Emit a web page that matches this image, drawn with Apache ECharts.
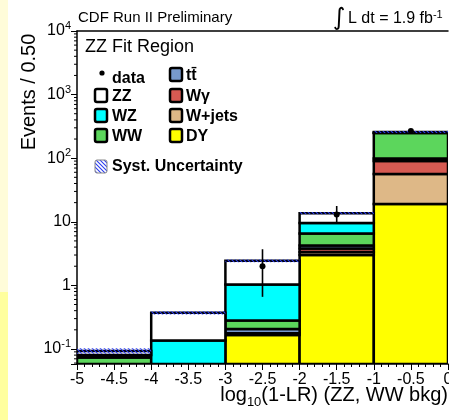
<!DOCTYPE html>
<html>
<head>
<meta charset="utf-8">
<script src="https://cdn.jsdelivr.net/npm/echarts@6/dist/echarts.min.js"></script>
<style>
html, body { margin: 0; padding: 0; background: #fff; }
#chart { width: 449px; height: 420px; }
</style>
</head>
<body>
<div id="chart"></div>
<script>
// Bin edges of log10(1-LR)
const binLow  = [-5, -4, -3, -2, -1];
const binHigh = [-4, -3, -2, -1,  0];

// Expected events per bin for each background, bottom of the stack first
const dy     = [0.030, 0.010, 0.166, 3.00, 19.0];
const wjets  = [0.010, 0.004, 0.005, 0.35, 37.5];
const wgamma = [0.005, 0.003, 0.005, 0.45, 34.0];
const ttbar  = [0.005, 0.003, 0.030, 0.45, 8.0];
const ww     = [0.023, 0.010, 0.075, 2.30, 150];
const wz     = [0.007, 0.106, 0.750, 3.00, 3.5];
const zz     = [0.013, 0.234, 1.400, 4.10, 6.0];

// Relative systematic uncertainty on the total prediction
const systFrac = [0.10, 0.06, 0.05, 0.04, 0.035];

// Observed data with error bar ends
const dataX    = [-2.5, -1.5, -0.5];
const dataY    = [2, 13, 268];
const dataLow  = [0.66, 9.9, 252];
const dataHigh = [3.7, 17.7, 284];

// Axis tick labels
const xTicks = ['-5', '-4.5', '-4', '-3.5', '-3', '-2.5', '-2', '-1.5', '-1', '-0.5', '0'];
const yTickExp = [-1, 0, 1, 2, 3, 4];

const Y_MIN = 0.058, Y_MAX = 1e4;
const FONT = '"Liberation Sans", Arial, Helvetica, sans-serif';

const components = [
  { name: 'DY',     values: dy,     color: '#ffff00' },
  { name: 'W+jets', values: wjets,  color: '#deb887' },
  { name: 'Wγ',     values: wgamma, color: '#d65a52' },
  { name: 'tt̄',     values: ttbar,  color: '#7799cc' },
  { name: 'WW',     values: ww,     color: '#5cd65c' },
  { name: 'WZ',     values: wz,     color: '#00ffff' },
  { name: 'ZZ',     values: zz,     color: '#ffffff' }
];

function hatchPattern() {
  const c = document.createElement('canvas');
  c.width = 4; c.height = 4;
  const g = c.getContext('2d');
  g.strokeStyle = '#2a3cf0';
  g.lineWidth = 1.1;
  g.beginPath();
  g.moveTo(-1, -1); g.lineTo(5, 5);
  g.moveTo(-1, 3); g.lineTo(1, 5);
  g.moveTo(3, -1); g.lineTo(5, 1);
  g.stroke();
  return { image: c, repeat: 'repeat' };
}
const HATCH = hatchPattern();

function clampRect(params, p0, p1) {
  const cs = params.coordSys;
  let top = Math.max(p1[1], cs.y);
  let bottom = Math.min(p0[1], cs.y + cs.height);
  if (bottom - top <= 0) return null;
  return { x: p0[0], y: top, width: p1[0] - p0[0], height: bottom - top };
}

// Stacked histogram series
const cumulative = binLow.map(() => 1e-4);
const stackSeries = components.map((comp, ci) => {
  const data = binLow.map((lo, i) => {
    const base = cumulative[i];
    const top = base + comp.values[i];
    cumulative[i] = top;
    return [lo, binHigh[i], base, top];
  });
  return {
    type: 'custom',
    name: comp.name,
    z: 2 + ci * 0.01,
    clip: true,
    encode: { x: [0, 1], y: [2, 3] },
    data: data,
    renderItem: function (params, api) {
      const p0 = api.coord([api.value(0), api.value(2)]);
      const p1 = api.coord([api.value(1), api.value(3)]);
      const shape = clampRect(params, p0, p1);
      if (!shape) return { type: 'group', children: [] };
      return {
        type: 'rect',
        shape: shape,
        style: { fill: comp.color, stroke: '#000', lineWidth: 2.5 }
      };
    }
  };
});

const totals = cumulative.slice();

const systSeries = {
  type: 'custom',
  name: 'Syst. Uncertainty',
  z: 5,
  clip: true,
  encode: { x: [0, 1], y: [2, 3] },
  data: binLow.map((lo, i) => [lo, binHigh[i], totals[i] * (1 - systFrac[i]), totals[i] * (1 + systFrac[i])]),
  renderItem: function (params, api) {
    const p0 = api.coord([api.value(0), api.value(2)]);
    const p1 = api.coord([api.value(1), api.value(3)]);
    const shape = clampRect(params, p0, p1);
    if (!shape) return { type: 'group', children: [] };
    return { type: 'rect', shape: shape, style: { fill: HATCH, stroke: null } };
  }
};

const dataSeries = {
  type: 'custom',
  name: 'data',
  z: 6,
  encode: { x: 0, y: [1, 2, 3] },
  data: dataX.map((x, i) => [x, dataY[i], dataLow[i], dataHigh[i]]),
  renderItem: function (params, api) {
    const c = api.coord([api.value(0), api.value(1)]);
    const lo = api.coord([api.value(0), api.value(2)]);
    const hi = api.coord([api.value(0), api.value(3)]);
    return {
      type: 'group',
      children: [
        { type: 'line', shape: { x1: c[0], y1: lo[1], x2: c[0], y2: hi[1] }, style: { stroke: '#000', lineWidth: 1.6 } },
        { type: 'circle', shape: { cx: c[0], cy: c[1], r: 3 }, style: { fill: '#000' } }
      ]
    };
  }
};

// Minor ticks on the logarithmic axis (2..9 within each decade)
const minorVals = [];
for (let e = -2; e < 4; e++) {
  for (let m = 2; m <= 9; m++) {
    const v = m * Math.pow(10, e);
    if (v > Y_MIN && v < Y_MAX) minorVals.push(v);
  }
}
const minorTickSeries = {
  type: 'custom',
  z: 7,
  silent: true,
  clip: false,
  encode: { y: 1 },
  data: minorVals.map(v => [binLow[0], v]),
  renderItem: function (params, api) {
    const p = api.coord([api.value(0), api.value(1)]);
    return { type: 'line', shape: { x1: p[0] - 3, y1: p[1], x2: p[0], y2: p[1] }, style: { stroke: '#000', lineWidth: 1 } };
  }
};

function yLabel(v) {
  const lg = Math.log10(v);
  const e = Math.round(lg);
  if (Math.abs(lg - e) > 1e-6 || yTickExp.indexOf(e) < 0) return '';
  if (e === 0) return '{b|1}';
  if (e === 1) return '{b|10}';
  return '{b|10}{s|' + e + '}';
}

// Legend entries drawn inside the frame
const legendBox = (x, y, fill, hatch) => ({
  type: 'rect',
  shape: { x: x, y: y, width: 12, height: 13, r: 2 },
  style: hatch ? { fill: HATCH, stroke: '#888', lineWidth: 1 } : { fill: fill, stroke: '#000', lineWidth: 2.5 },
  z: 10
});
const legendText = (x, y, text, rich) => ({
  type: 'text',
  x: x, y: y,
  style: { text: text, font: 'bold 16px ' + FONT, fill: '#000', textVerticalAlign: 'middle', rich: rich },
  z: 10
});

const legendLeft = [
  { label: 'ZZ', color: '#ffffff', y: 89 },
  { label: 'WZ', color: '#00ffff', y: 109 },
  { label: 'WW', color: '#5cd65c', y: 129 }
];
const legendRight = [
  { label: 'tt̄', color: '#7799cc', y: 68 },
  { label: 'Wγ', color: '#d65a52', y: 89 },
  { label: 'W+jets', color: '#deb887', y: 109 },
  { label: 'DY', color: '#ffff00', y: 129 }
];

const graphics = [
  { type: 'rect', shape: { x: 0, y: 0, width: 8, height: 292 }, style: { fill: '#fffcd9' } },
  { type: 'rect', shape: { x: 0, y: 292, width: 8, height: 128 }, style: { fill: '#ffff9e' } },
  { type: 'text', x: 78, y: 18, style: { text: 'CDF Run II Preliminary', font: '15px ' + FONT, fill: '#000', textVerticalAlign: 'middle' } },
  { type: 'text', x: 333, y: 19, style: { text: '∫', font: '24px "DejaVu Sans", ' + FONT, fill: '#000', textVerticalAlign: 'middle' } },
  { type: 'text', x: 348, y: 19, style: {
      text: 'L dt = 1.9 fb{s|-1}', font: '16px ' + FONT, fill: '#000', textVerticalAlign: 'middle',
      rich: { s: { fontSize: 11, fontFamily: FONT, verticalAlign: 'top', padding: [0, 0, 9, 0] } }
  } },
  { type: 'text', x: 85, y: 47, style: { text: 'ZZ Fit Region', font: '18px ' + FONT, fill: '#000', textVerticalAlign: 'middle' }, z: 10 },
  { type: 'text', x: 29, y: 92, rotation: Math.PI / 2, style: { text: 'Events / 0.50', font: '20px ' + FONT, fill: '#000', textAlign: 'center', textVerticalAlign: 'middle' } },
  { type: 'text', x: 448, y: 395, style: {
      text: 'log{sub|10}(1-LR) (ZZ, WW bkg)', font: '20px ' + FONT, fill: '#000', textAlign: 'right', textVerticalAlign: 'middle',
      rich: { sub: { fontSize: 13, fontFamily: FONT, padding: [14, 0, 0, 0] } }
  } },
  { type: 'circle', shape: { cx: 102, cy: 73, r: 2.6 }, style: { fill: '#000' }, z: 10 },
  legendText(112, 79, 'data'),
  legendBox(95, 160, null, true),
  legendText(112, 167, 'Syst. Uncertainty')
];
legendLeft.forEach(e => { graphics.push(legendBox(95, e.y, e.color)); graphics.push(legendText(112, e.y + 8, e.label)); });
legendRight.forEach(e => { graphics.push(legendBox(170, e.y, e.color)); graphics.push(legendText(186, e.y + 8, e.label)); });

const chart = echarts.init(document.getElementById('chart'), null, { renderer: 'canvas' });
chart.setOption({
  animation: false,
  backgroundColor: '#ffffff',
  grid: { left: 77, right: 1, top: 31, bottom: 56, containLabel: false, outerBoundsMode: 'none' },
  xAxis: [
    {
      type: 'value', min: -5, max: 0, interval: 0.5,
      axisLine: { show: true, onZero: false, lineStyle: { color: '#000', width: 1.5 } },
      axisTick: { show: true, length: 6, lineStyle: { color: '#000', width: 1 } },
      minorTick: { show: true, splitNumber: 5, length: 3, lineStyle: { color: '#000', width: 1 } },
      axisLabel: {
        color: '#000', fontSize: 16, fontFamily: FONT, margin: 8, showMaxLabel: true, showMinLabel: true,
        formatter: function (v) { const i = Math.round((v + 5) / 0.5); return xTicks[i] !== undefined ? xTicks[i] : ''; }
      },
      splitLine: { show: false }
    },
    {
      type: 'value', min: -5, max: 0, position: 'top',
      axisLine: { show: true, onZero: false, lineStyle: { color: '#000', width: 1.5 } },
      axisTick: { show: false }, axisLabel: { show: false }, splitLine: { show: false }
    }
  ],
  yAxis: {
    type: 'log', logBase: 10, min: Y_MIN, max: Y_MAX,
    axisLine: { show: true, onZero: false, lineStyle: { color: '#000', width: 1.5 } },
    axisTick: { show: true, length: 6, lineStyle: { color: '#000', width: 1 } },
    axisLabel: {
      color: '#000', fontSize: 16, fontFamily: FONT, margin: 6,
      formatter: yLabel,
      rich: {
        b: { fontSize: 16, fontFamily: FONT, color: '#000' },
        s: { fontSize: 11, fontFamily: FONT, color: '#000', verticalAlign: 'top', padding: [0, 0, 10, 0] }
      }
    },
    splitLine: { show: false }
  },
  series: stackSeries.concat([systSeries, dataSeries, minorTickSeries]),
  graphic: graphics
});
</script>
</body>
</html>
